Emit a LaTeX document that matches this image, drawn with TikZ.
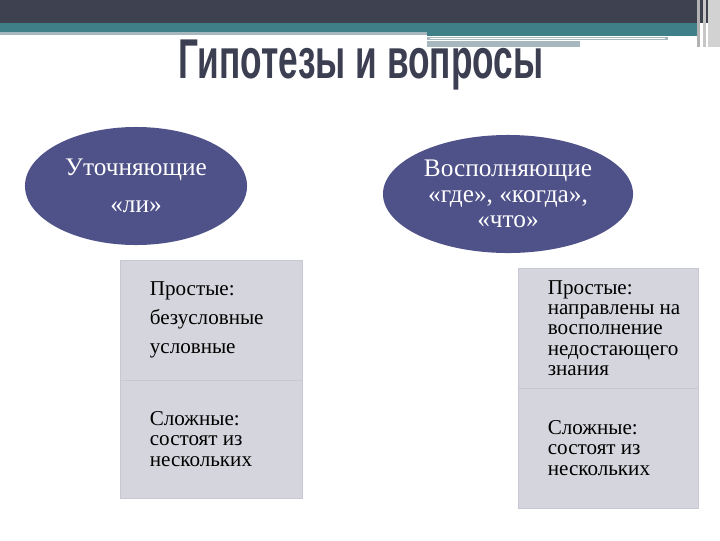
\documentclass[tikz,border=0pt]{standalone}
\usepackage{fontspec}
\setmainfont{Liberation Serif}
\newfontfamily\titlefont{Liberation Sans}
\definecolor{darkbar}{HTML}{3E4150}
\definecolor{tealbar}{HTML}{3F8088}
\definecolor{lightbar}{HTML}{A6B8BE}
\definecolor{ovalblue}{HTML}{4F5189}
\definecolor{boxgray}{HTML}{D5D5DD}
\definecolor{boxline}{HTML}{C8C8D4}
\definecolor{titlegray}{HTML}{3C3F52}
\tikzstyle{oval} = [ellipse, fill=ovalblue, text=white, align=center,
inner sep=0pt, font=\fontsize{18}{18}\selectfont]
\tikzstyle{block} = [rectangle, fill=boxgray, draw=boxline, line width=0.6pt,
minimum width=4.55cm, minimum height=3cm, inner sep=0pt]
\tikzstyle{boxtext} = [anchor=west, align=left, inner sep=0pt,
font=\fontsize{15}{14.5}\selectfont]
\usetikzlibrary{shapes.geometric}

\begin{document}
\begin{tikzpicture}[x=0.025cm, y=-0.025cm]
\useasboundingbox (0,0) rectangle (720,540);
% top bars
\fill[darkbar] (0,0) rectangle (720,23);
\fill[tealbar] (0,23) rectangle (700,32);
\fill[tealbar] (427,32) rectangle (700,36);
\fill[lightbar] (0,32) rectangle (427,35);
\fill[lightbar] (427,37) rectangle (668,40);
\fill[white] (430,37.8) rectangle (665,39.2);
\fill[lightbar] (427,41) rectangle (580,47);
\fill[gray!60] (697,0) rectangle (700,47);
\fill[gray!45] (703,0) rectangle (706,47);
\fill[gray!35] (708,0) rectangle (720,47);
% title
\node[text=titlegray, font=\titlefont\bfseries\fontsize{38}{40}\selectfont, xscale=0.66, yscale=1.05] (title) at (361,65) {Гипотезы и вопросы};
% ovals
\node[oval, minimum width=5.55cm, minimum height=2.95cm, font=\fontsize{18}{26}\selectfont] (clarify) at (136,186) {Уточняющие\\«ли»};
\node[oval, minimum width=6.25cm, minimum height=2.95cm] (fill) at (508,194) {Восполняющие\\«где», «когда»,\\«что»};
% left boxes
\node[block] (lsimple) at (211,320) {};
\node[block, minimum height=2.95cm] (lcomplex) at (211,439) {};
\node[boxtext, font=\fontsize{15}{20.6}\selectfont] (lsimpletxt) at ([xshift=0.75cm]lsimple.west) {Простые:\\безусловные\\условные};
\node[boxtext] (lcomplextxt) at ([xshift=0.75cm]lcomplex.west) {Сложные:\\состоят из\\нескольких};
% right boxes
\node[block, minimum width=4.5cm] (rsimple) at (608,328) {};
\node[block, minimum width=4.5cm] (rcomplex) at (608,448) {};
\node[boxtext] (rsimpletxt) at ([xshift=0.75cm]rsimple.west) {Простые:\\направлены на\\восполнение\\недостающего\\знания};
\node[boxtext] (rcomplextxt) at ([xshift=0.75cm]rcomplex.west) {Сложные:\\состоят из\\нескольких};
\end{tikzpicture}
\end{document}
